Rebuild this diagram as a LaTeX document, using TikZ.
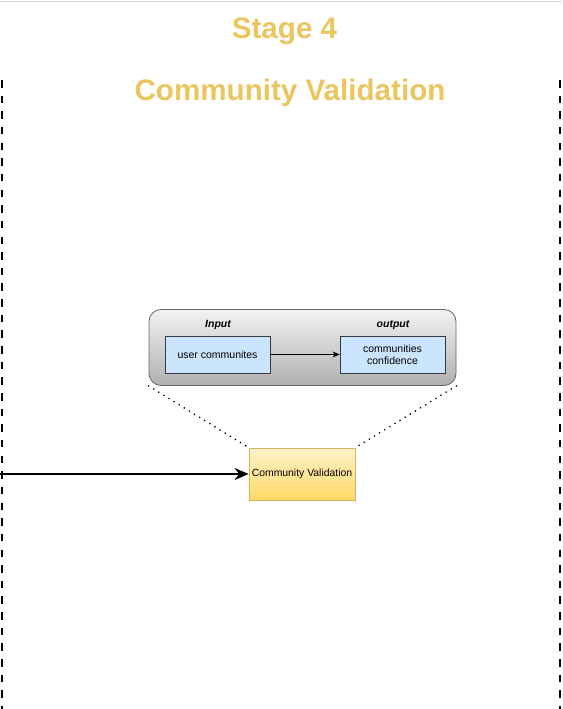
\documentclass[tikz,border=0pt]{standalone}
\usepackage{fontspec}
\setmainfont{Liberation Sans}
\usetikzlibrary{arrows.meta}
\definecolor{titlecol}{HTML}{EBC55E}
\definecolor{bluefill}{HTML}{CCE5FF}
\definecolor{bluedraw}{HTML}{36393D}
\definecolor{ylwtop}{HTML}{FFF2CC}
\definecolor{ylwbot}{HTML}{FFD966}
\definecolor{ylwdraw}{HTML}{D6B656}
\tikzset{
  titletext/.style={font=\fontsize{29.6}{32}\selectfont\bfseries, text=titlecol, inner sep=0pt, anchor=base},
  iolabel/.style={font=\fontsize{10.5}{12}\selectfont\bfseries\itshape, inner sep=0pt, anchor=base},
  bluebox/.style={draw=bluedraw, fill=bluefill, minimum width=105pt, minimum height=37pt, inner sep=0pt,
    align=center, font=\fontsize{10.5}{12.5}\selectfont, line width=0.8pt},
  container/.style={draw=black!60, rounded corners=12pt, top color=black!5, bottom color=black!31,
    minimum width=307pt, minimum height=76pt, inner sep=0pt, line width=0.8pt},
  stagebox/.style={draw=ylwdraw, top color=ylwtop, bottom color=ylwbot, minimum width=106pt,
    minimum height=52pt, inner sep=0pt, font=\fontsize{10.4}{12}\selectfont, line width=0.8pt},
  bounddash/.style={line width=2.2pt, dash pattern=on 7.5pt off 8.15pt},
  zoomdots/.style={line width=1.8pt, line cap=round, dash pattern=on 0pt off 6pt},
}
\begin{document}
\begin{tikzpicture}[x=1pt,y=-1pt]
\useasboundingbox (0,0) rectangle (562,709);
\fill[white] (0,0) rectangle (562,709);
\draw[black!14, line width=1pt] (0,2) -- (562,2);
\node[titletext] (t1) at (284.5,38) {Stage 4};
\node[titletext] (t2) at (290,100) {Community Validation};
\draw[bounddash] (2,80) -- (2,709);
\draw[bounddash] (560,80) -- (560,709);
\node[container] (cont) at (302.5,347.5) {};
\node[iolabel] (inlab) at (218,327) {Input};
\node[iolabel] (outlab) at (393,327) {output};
\node[bluebox] (b1) at (217.5,354.5) {user communites};
\node[bluebox] (b2) at (392.5,354.5) {communities\\confidence};
\draw[-{Stealth[length=7pt,width=6pt]}, line width=0.9pt] (b1) -- (b2);
\node[stagebox] (cv) at (302,474) {Community Validation};
\coordinate (src) at (0,474);
\draw[-{Stealth[length=14pt,width=12pt]}, line width=2.4pt] (src) -- (cv.west);
\draw[zoomdots] (cont.south west) -- (cv.north west);
\draw[zoomdots] (cont.south east) -- (cv.north east);
\end{tikzpicture}
\end{document}
